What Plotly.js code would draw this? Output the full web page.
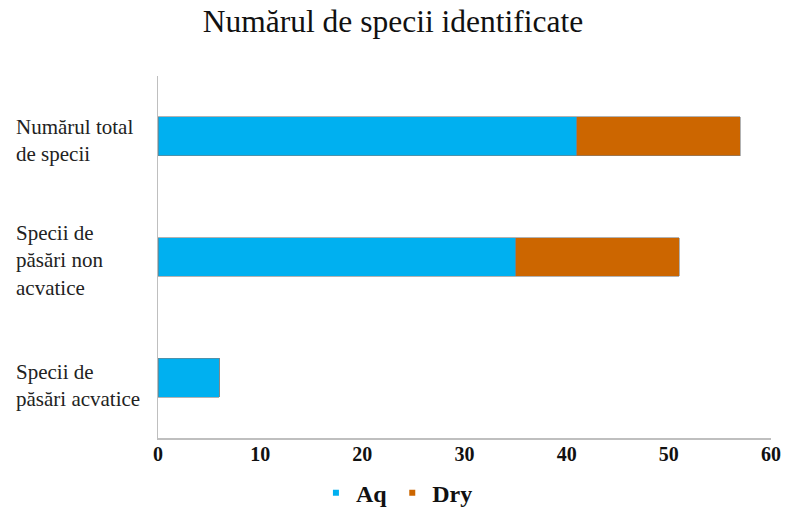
<!DOCTYPE html>
<html>
<head>
<meta charset="utf-8">
<script src="https://cdn.plot.ly/plotly-3.0.1.min.js"></script>
<style>html,body{margin:0;padding:0;background:#fff;}#chart{width:786px;height:511px;}</style>
</head>
<body>
<div id="chart"></div>
<script>
const categories = ["Numărul total de specii", "Specii de păsări non acvatice", "Specii de păsări acvatice"];
const categoryLabels = ["Numărul total<br>de specii", "Specii de<br>păsări non<br>acvatice", "Specii de<br>păsări acvatice"];
const aqValues = [41, 35, 6];
const dryValues = [16, 16, 0];
const xTicks = [0, 10, 20, 30, 40, 50, 60];
const seriesNames = ["Aq", "Dry"];
const seriesColors = ["#00B0F0", "#CC6600"];

const serif = "Liberation Serif";

const traces = [
  {type: "bar", orientation: "h", name: seriesNames[0], legendgroup: "aq", showlegend: false,
   y: categories, x: aqValues,
   marker: {color: seriesColors[0], line: {color: "#7f7f7f", width: 0.6}}, hoverinfo: "none"},
  {type: "bar", orientation: "h", name: seriesNames[1], legendgroup: "dry", showlegend: false,
   y: categories, x: dryValues,
   marker: {color: seriesColors[1], line: {color: "#7f7f7f", width: 0.6}}, hoverinfo: "none"},
  {type: "scatter", mode: "markers", name: seriesNames[0], legendgroup: "aq", x: [null], y: [null],
   marker: {symbol: "square", size: 6, color: seriesColors[0]}, hoverinfo: "none"},
  {type: "scatter", mode: "markers", name: seriesNames[1], legendgroup: "dry", x: [null], y: [null],
   marker: {symbol: "square", size: 6, color: seriesColors[1]}, hoverinfo: "none"}
];

const labelShift = [-4, -3, -8];
const annotations = categories.map((c, i) => ({
  xref: "paper", yref: "y", x: -0.235, y: c, xanchor: "left", yanchor: "middle",
  align: "left", showarrow: false, text: categoryLabels[i], yshift: labelShift[i],
  font: {family: serif, size: 21, color: "#222"}
}));

const layout = {
  width: 786, height: 511,
  margin: {l: 158, r: 15, t: 76, b: 73, autoexpand: false},
  paper_bgcolor: "#fff", plot_bgcolor: "#fff",
  barmode: "stack", bargap: 0.677,
  title: {text: "Numărul de specii identificate", font: {family: serif, size: 31.5, color: "#111"},
          x: 0.5, xanchor: "center", y: 0.958, yanchor: "middle"},
  xaxis: {range: [0, 60], tickvals: xTicks, ticktext: xTicks.map(String), showgrid: false, zeroline: false,
          showline: true, linecolor: "#bfbfbf", linewidth: 1.5, ticks: "", automargin: false,
          ticklabelstandoff: -3,
          tickfont: {family: serif, size: 20, color: "#111", weight: "bold"}},
  yaxis: {autorange: "reversed", showticklabels: false, showgrid: false, zeroline: false,
          showline: true, linecolor: "#bfbfbf", linewidth: 1.5, ticks: "", automargin: false},
  showlegend: true,
  legend: {orientation: "h", xref: "container", yref: "container", x: 0.505, xanchor: "center", y: 0.035, yanchor: "middle",
           font: {family: serif, size: 24, color: "#111", weight: "bold"}, itemwidth: 30, traceorder: "normal",
           tracegroupgap: 0, bgcolor: "rgba(0,0,0,0)"},
  annotations: annotations
};

Plotly.newPlot("chart", traces, layout, {displayModeBar: false, staticPlot: true});
</script>
</body>
</html>
